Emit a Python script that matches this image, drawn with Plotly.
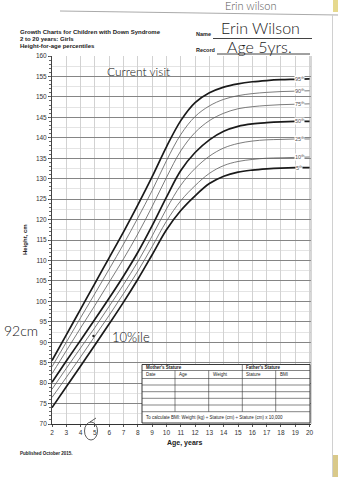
import plotly.graph_objects as go

# ---------------- data ----------------
ages = list(range(2, 21))
p95 = [85.5, 91.8, 98.1, 104.4, 110.7, 117.0, 123.6, 130.5, 137.8, 144.2, 148.6, 151.0, 152.4, 153.2, 153.7, 154.0, 154.2, 154.3, 154.4]
p90 = [84.0, 90.0, 96.0, 101.9, 107.9, 114.0, 120.4, 127.1, 134.4, 140.8, 145.2, 147.8, 149.4, 150.3, 150.8, 151.1, 151.3, 151.4, 151.5]
p75 = [82.3, 87.9, 93.5, 99.0, 104.7, 110.4, 116.5, 123.2, 130.3, 136.8, 141.3, 144.2, 146.0, 147.1, 147.6, 147.9, 148.1, 148.2, 148.3]
p50 = [80.2, 85.4, 90.5, 95.6, 100.8, 106.2, 112.0, 118.5, 125.5, 132.0, 136.4, 139.5, 141.6, 142.8, 143.4, 143.7, 143.9, 144.0, 144.0]
p25 = [78.5, 83.6, 88.6, 93.6, 98.8, 104.1, 109.7, 116.0, 122.6, 128.4, 132.5, 135.5, 137.5, 138.6, 139.2, 139.5, 139.6, 139.7, 139.7]
p10 = [76.5, 81.4, 86.4, 91.5, 96.6, 101.9, 107.4, 113.4, 119.6, 124.6, 128.3, 131.3, 133.2, 134.2, 134.7, 135.0, 135.1, 135.2, 135.3]
p5 = [74.0, 79.1, 84.2, 89.3, 94.5, 99.8, 105.4, 111.4, 117.5, 122.2, 125.8, 128.8, 130.6, 131.6, 132.1, 132.4, 132.6, 132.7, 132.7]

percentile_names = ["95", "90", "75", "50", "25", "10", "5"]
percentile_series = [p95, p90, p75, p50, p25, p10, p5]
bold_percentiles = {"95", "50", "5"}

visit_age = [4.9]
visit_height = [91.5]

x_ticks = list(range(2, 21))

# ---------------- figure ----------------
W, H = 338, 477
ML, MR, MT, MB = 52, 27, 56, 53
PW, PH = W - ML - MR, H - MT - MB


def P(px, py):
    return (px - ML) / PW, (H - MB - py) / PH


fig = go.Figure()

for name, vals in zip(percentile_names, percentile_series):
    thick = name in bold_percentiles
    fig.add_trace(go.Scatter(
        x=ages, y=vals, mode="lines", line_shape="spline",
        line=dict(color="#1a1a1a" if thick else "#5a5a5a", width=1.7 if thick else 0.8),
        showlegend=False, hoverinfo="skip"))

fig.add_trace(go.Scatter(x=visit_age, y=visit_height, mode="markers",
                         marker=dict(size=2.5, color="#222"), showlegend=False))
fig.add_trace(go.Scatter(x=visit_age, y=visit_height, mode="markers",
                         marker=dict(size=12, color="rgba(0,0,0,0)", symbol="circle-open",
                                     line=dict(color="#333", width=0.9)), showlegend=False))
# invisible helper trace for the fine tick axis
fig.add_trace(go.Scatter(x=[2], y=[70], yaxis="y2", mode="markers",
                         marker=dict(opacity=0), showlegend=False, hoverinfo="skip"))

annotations = []
shapes = []

# percentile labels
for name, vals in zip(percentile_names, percentile_series):
    annotations.append(dict(x=19.27, y=vals[-1], xref="x", yref="y",
                            text=f"{name}<sup>th</sup>", showarrow=False,
                            font=dict(size=5.5, color="#555", family="Arial"),
                            bgcolor="white", borderpad=0))

def txt(px, py, text, size, xanchor="left", bold=False, color="#222", family="Arial",
        angle=0, yanchor="middle", weight=None):
    x, y = P(px, py)
    f = dict(size=size, color=color, family=family)
    if weight is not None:
        f["weight"] = weight
    annotations.append(dict(x=x, y=y, xref="paper", yref="paper", text=(f"<b>{text}</b>" if bold else text),
                            showarrow=False, xanchor=xanchor, yanchor=yanchor, textangle=angle,
                            font=f))

hand = "Lato"

# printed header
txt(18, 31.5, "Growth Charts for Children with Down Syndrome", 6, bold=True)
txt(18, 38.5, "2 to 20 years: Girls", 6, bold=True)
txt(18, 46, "Height-for-age percentiles", 6, bold=True)
txt(194, 34, "Name", 5.5, bold=True)
txt(194, 50, "Record", 5.5, bold=True)
txt(25, 240, "Height, cm", 6, xanchor="center", bold=True, angle=-90)
txt(185, 443, "Age, years", 7, xanchor="center", bold=True)
txt(18, 453, "Published October 2015.", 4.5, bold=True)

# handwriting
txt(260, 27, "Erin Wilson", 16, xanchor="center", family=hand, color="#1a1a1a", weight=300)
txt(259, 46, "Age 5yrs.", 16, xanchor="center", family=hand, color="#1a1a1a", weight=300)
txt(250, 6, "Erin wilson", 11, xanchor="center", family=hand, color="#555", weight=300)
txt(138, 72, "Current visit", 12, xanchor="center", family=hand, color="#111", weight=300)
txt(21, 330, "92cm", 14, xanchor="center", family=hand, color="#111", weight=300)
txt(131, 337, "10%ile", 13, xanchor="center", family=hand, color="#111", weight=300)

def line(px0, py0, px1, py1, color="#111", width=0.8, layer="above"):
    x0, y0 = P(px0, py0)
    x1, y1 = P(px1, py1)
    shapes.append(dict(type="line", xref="paper", yref="paper", x0=x0, y0=y0, x1=x1, y1=y1,
                       line=dict(color=color, width=width), layer=layer))

def rect(px0, py0, px1, py1, fill="white", color="#111", width=0.8, layer="above"):
    x0, y0 = P(px0, py0)
    x1, y1 = P(px1, py1)
    shapes.append(dict(type="rect", xref="paper", yref="paper", x0=x0, y0=y0, x1=x1, y1=y1,
                       fillcolor=fill, line=dict(color=color, width=width), layer=layer))

# underlines
line(213, 38.5, 312, 38.5, width=0.8)
line(217, 54, 310, 54, width=0.8)
# paper edge at top
line(60, 11, 338, 15, color="#aaa", width=1)
# right page edge
line(332.5, 15, 332.5, 477, color="#d0d0d0", width=1)
rect(333, 0, 338, 12, fill="#e6d98e", color="#e6d98e", width=0)
rect(333, 455, 338, 477, fill="#d9c98a", color="#d9c98a", width=0)
# right frame
line(311, 56, 311, 424, color="#999", width=0.8)

# circle around the "5" on age axis
x0, y0 = P(84.5, 422)
x1, y1 = P(97.5, 440)
shapes.append(dict(type="circle", xref="paper", yref="paper", x0=x0, y0=y0, x1=x1, y1=y1,
                   line=dict(color="#333", width=0.8)))
line(90, 422, 96, 418, color="#333", width=0.8)

# table
T_L, T_R, T_T, T_B = 142, 310, 364.5, 423
rect(T_L, T_T, T_R, T_B, fill="white", color="#222", width=0.9)
for yy in [370.5, 378.5, 385, 391.7, 398.3, 405, 411.7]:
    line(T_L, yy, T_R, yy, color="#333", width=0.6)
for xx in [175, 208.7, 275.7]:
    line(xx, 370.5, xx, 411.7, color="#333", width=0.6)
line(242.3, T_T, 242.3, 411.7, color="#333", width=0.6)
ts = 4.5
txt(143.5, 367.5, "Mother's Stature", ts, bold=True)
txt(244, 367.5, "Father's Stature", ts, bold=True)
txt(143.5, 374.5, "Date", ts)
txt(177, 374.5, "Age", ts)
txt(210.5, 374.5, "Weight", ts)
txt(244, 374.5, "Stature", ts)
txt(277.5, 374.5, "BMI", ts)
txt(143.5, 417.5, "To calculate BMI: Weight (kg) ÷ Stature (cm) ÷ Stature (cm) x 10,000", ts)

fig.update_layout(
    width=W, height=H,
    margin=dict(l=ML, r=MR, t=MT, b=MB),
    paper_bgcolor="white", plot_bgcolor="white",
    showlegend=False,
    xaxis=dict(range=[2, 2 + PW / 14.31], tickvals=x_ticks, ticks="outside", ticklen=2,
               tickcolor="#555", tickfont=dict(size=6.5, color="#333", family="Arial"),
               showgrid=True, gridcolor="#d2d2d2", gridwidth=0.6, zeroline=False,
               showline=True, linecolor="#333", linewidth=0.9),
    yaxis=dict(range=[70, 160], dtick=5, ticks="outside", ticklen=3, tickcolor="#444",
               tickfont=dict(size=6.5, color="#333", family="Arial"),
               showgrid=True, gridcolor="#858585", gridwidth=1.2, zeroline=False,
               showline=True, linecolor="#444", linewidth=0.9,
               minor=dict(dtick=2.5, showgrid=True, gridcolor="#e4e4e4", gridwidth=0.5)),
    yaxis2=dict(overlaying="y", matches="y", side="left", showgrid=False, zeroline=False,
                showticklabels=False, ticks="outside", ticklen=2, tickcolor="#666",
                dtick=1, tickwidth=0.6),
    annotations=annotations,
    shapes=shapes,
)

fig.write_html("out.html")
